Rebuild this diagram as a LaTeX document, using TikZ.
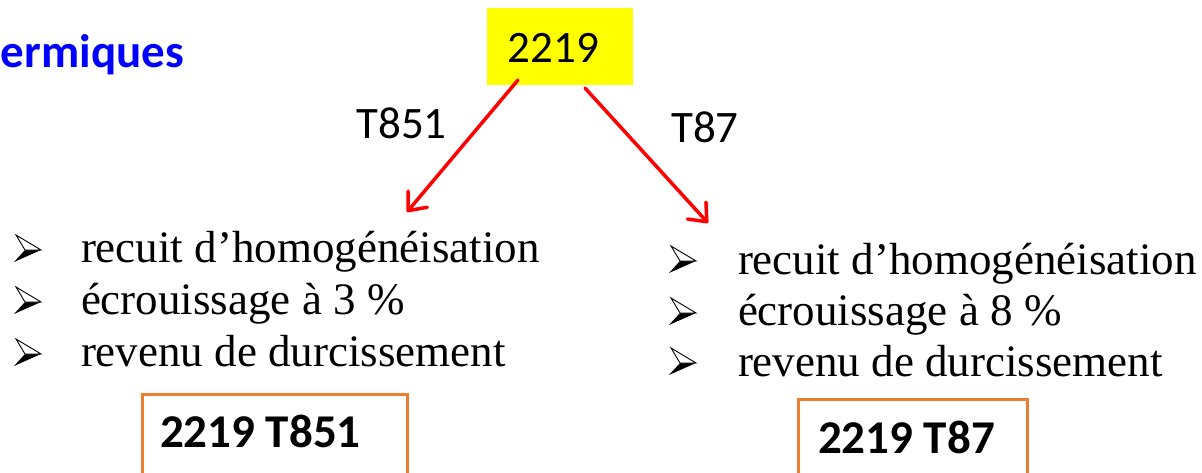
\documentclass[tikz,border=0pt]{standalone}
\usepackage{fontspec}
\setmainfont{Liberation Serif}
\newfontfamily\calibri{Carlito}
\usetikzlibrary{arrows.meta}
\definecolor{hlyellow}{RGB}{255,255,0}
\definecolor{boxorange}{RGB}{237,125,49}
\definecolor{titleblue}{RGB}{0,0,255}
\begin{document}
\begin{tikzpicture}[x=1pt,y=-1pt,
  every node/.style={inner sep=0pt, outer sep=0pt},
  listtext/.style={anchor=base west, font=\fontsize{45}{54}\selectfont},
  branchlabel/.style={anchor=base, font=\calibri\fontsize{45}{54}\selectfont},
  result/.style={anchor=base west, font=\calibri\bfseries\fontsize{47}{56}\selectfont},
  resultbox/.style={draw=boxorange, line width=3pt, anchor=north west},
  branch/.style={draw=red, line width=3.5pt, line cap=round,
    -{Straight Barb[length=15pt,width=25pt,round]}},
  bul/.pic={
    \fill[black] (-16,0) -- (0,0) -- (-27,12) -- cycle;
    \draw[black, line width=0.9pt, fill=white] (-25,-15) -- (0,0) -- (-16,0) -- cycle;
  }]
\useasboundingbox (0,0) rectangle (1202,472);
\clip (0,0) rectangle (1202,472);

% heading fragment
\node[anchor=base west, text=titleblue, font=\calibri\bfseries\fontsize{47}{56}\selectfont]
  (title) at (1,67) {ermiques};

% parent alloy
\node[fill=hlyellow, minimum width=146pt, minimum height=77pt] (alloy) at (560,46.5) {};
\node[branchlabel] (alloytxt) at (553.5,62) {2219};

% branches
\coordinate (lstart) at (518,80);
\coordinate (ltip) at (407,212);
\coordinate (rstart) at (585,88);
\coordinate (rtip) at (708,223);
\draw[branch] (lstart) -- (ltip);
\draw[branch] (rstart) -- (rtip);
\node[branchlabel] (lab851) at (401.5,138) {T851};
\node[branchlabel] (lab87) at (705,142) {T87};

% left treatment list
\pic at (41,250) {bul};
\pic at (41,302) {bul};
\pic at (41,354) {bul};
\node[listtext] (l1) at (81,262) {recuit d’homogénéisation};
\node[listtext] (l2) at (81,314) {écrouissage à 3 \%};
\node[listtext] (l3) at (81,366) {revenu de durcissement};

% right treatment list
\pic at (696,261) {bul};
\pic at (696,313) {bul};
\pic at (696,363) {bul};
\node[listtext] (r1) at (738,274) {recuit d’homogénéisation};
\node[listtext] (r2) at (738,325) {écrouissage à 8 \%};
\node[listtext] (r3) at (738,376) {revenu de durcissement};

% resulting tempers
\node[resultbox, minimum width=265pt, minimum height=90pt] (res1) at (142,394) {};
\node[result] (res1txt) at (160,447) {2219 T851};
\node[resultbox, minimum width=229pt, minimum height=90pt] (res2) at (798,399) {};
\node[result] (res2txt) at (818,453) {2219 T87};
\end{tikzpicture}
\end{document}
